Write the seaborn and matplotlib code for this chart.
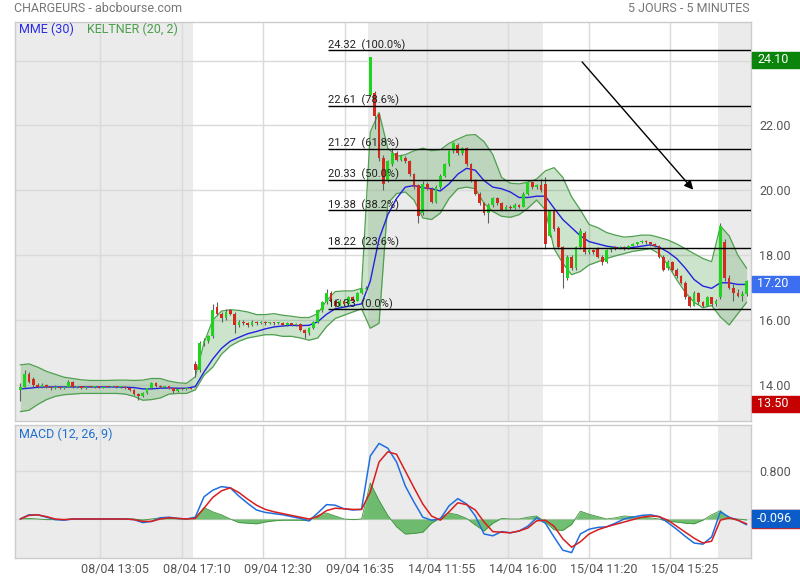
import numpy as np
import pandas as pd
import matplotlib
matplotlib.use("Agg")
import matplotlib.pyplot as plt
import seaborn as sns
from matplotlib.patches import Rectangle
from matplotlib.transforms import blended_transform_factory as btf

sns.set_style("white")
plt.rcParams['font.family'] = ['Roboto', 'DejaVu Sans']

# ---------------- data (5-minute candles, 5 sessions) ----------------
day_lengths = [40, 40, 40, 40, 7]

opens = [
    13.85, 13.95, 14.35, 14.20, 14.00, 13.95, 14.00, 13.95, 13.90, 13.95,
    13.90, 13.95, 14.10, 13.95, 13.96, 13.90, 13.95, 13.94, 13.96, 13.92,
    13.95, 13.94, 13.96, 13.94, 13.95, 13.90, 13.85, 13.72, 13.65, 13.75,
    13.90, 14.05, 13.98, 13.95, 13.96, 13.90, 13.80, 13.88, 13.87, 13.90,
    14.65, 14.45, 15.30, 15.35, 15.50, 16.40, 16.20, 16.05, 16.30, 16.20,
    15.85, 15.95, 15.90, 15.85, 15.95, 15.90, 15.95, 15.90, 15.92, 15.90,
    15.92, 15.85, 15.90, 15.85, 15.88, 15.70, 15.60, 15.75, 15.95, 16.30,
    16.55, 16.85, 16.60, 16.45, 16.60, 16.50, 16.70, 16.60, 16.85, 16.95,
    22.95, 23.00, 22.35, 21.00, 20.30, 20.80, 21.15, 20.95, 21.00, 20.90,
    20.50, 20.15, 19.30, 20.20, 20.05, 19.65, 20.10, 20.45, 20.80, 21.20,
    21.40, 21.15, 21.30, 20.80, 20.30, 19.90, 19.60, 19.30, 19.55, 19.75,
    19.60, 19.40, 19.50, 19.45, 19.55, 19.50, 19.90, 20.25, 20.10, 20.15,
    20.20, 18.60, 19.35, 18.85, 18.25, 17.30, 17.95, 17.60, 18.25, 18.70,
    18.10, 18.15, 18.20, 17.95, 17.80, 18.15, 18.25, 18.20, 18.25, 18.20,
    18.30, 18.35, 18.40, 18.45, 18.40, 18.35, 18.30, 17.95, 17.60, 17.80,
    17.55, 17.35, 17.15, 16.70, 16.45, 16.85, 16.55, 16.45, 16.70, 16.50,
    16.70, 18.40, 17.30, 17.00, 16.85, 16.75, 16.80,
]
highs = [
    14.05, 14.45, 14.40, 14.25, 14.05, 14.05, 14.02, 13.98, 14.00, 13.97,
    13.98, 14.15, 14.12, 13.98, 13.97, 13.97, 13.97, 13.97, 13.98, 13.97,
    13.97, 13.98, 13.98, 13.97, 13.96, 13.92, 13.87, 13.75, 13.78, 13.92,
    14.10, 14.08, 14.00, 13.98, 13.97, 13.92, 13.92, 13.90, 13.93, 13.92,
    14.75, 15.35, 15.45, 15.55, 16.50, 16.55, 16.25, 16.35, 16.35, 16.25,
    16.00, 16.00, 15.95, 16.00, 15.98, 15.98, 15.97, 15.95, 15.94, 15.95,
    15.94, 15.93, 15.92, 15.92, 15.90, 15.72, 15.78, 15.98, 16.35, 16.60,
    16.95, 16.90, 16.65, 16.65, 16.65, 16.75, 16.75, 16.88, 16.98, 17.05,
    24.10, 23.05, 22.40, 21.10, 20.95, 21.30, 21.20, 21.10, 21.05, 20.95,
    20.55, 20.20, 20.30, 20.25, 20.10, 20.15, 20.50, 20.85, 21.25, 21.50,
    21.45, 21.35, 21.35, 20.85, 20.35, 19.95, 19.65, 19.60, 19.80, 19.80,
    19.65, 19.55, 19.55, 19.60, 19.58, 19.95, 20.30, 20.30, 20.20, 20.35,
    20.40, 19.40, 19.40, 18.90, 18.30, 18.00, 18.00, 18.30, 18.85, 18.75,
    18.20, 18.20, 18.25, 18.00, 18.20, 18.30, 18.28, 18.28, 18.28, 18.33,
    18.38, 18.42, 18.48, 18.47, 18.42, 18.37, 18.32, 18.00, 17.85, 17.82,
    17.60, 17.40, 17.20, 16.75, 16.90, 16.88, 16.60, 16.75, 16.72, 16.65,
    19.00, 18.50, 17.40, 17.10, 16.95, 16.90, 17.25,
]
lows = [
    13.50, 13.90, 14.05, 13.95, 13.90, 13.90, 13.90, 13.85, 13.88, 13.88,
    13.88, 13.93, 13.92, 13.92, 13.88, 13.88, 13.93, 13.92, 13.90, 13.91,
    13.93, 13.93, 13.92, 13.92, 13.88, 13.82, 13.68, 13.55, 13.62, 13.73,
    13.88, 13.95, 13.92, 13.92, 13.88, 13.75, 13.78, 13.85, 13.85, 13.87,
    14.25, 14.40, 15.20, 15.30, 15.45, 16.15, 15.95, 16.00, 16.15, 15.60,
    15.80, 15.85, 15.80, 15.83, 15.85, 15.88, 15.86, 15.87, 15.86, 15.88,
    15.82, 15.83, 15.82, 15.83, 15.65, 15.45, 15.55, 15.72, 15.92, 16.25,
    16.50, 16.50, 16.40, 16.42, 16.45, 16.48, 16.55, 16.58, 16.80, 16.90,
    22.90, 21.90, 20.90, 20.00, 20.25, 20.75, 20.90, 20.90, 20.85, 20.45,
    20.05, 19.00, 19.25, 20.00, 19.60, 19.60, 20.05, 20.40, 20.75, 21.15,
    21.10, 21.10, 20.75, 20.25, 19.85, 19.55, 19.25, 19.00, 19.50, 19.55,
    19.35, 19.35, 19.40, 19.42, 19.45, 19.48, 19.85, 20.05, 20.05, 19.95,
    18.20, 18.55, 18.75, 18.20, 17.00, 17.25, 17.55, 17.55, 18.20, 18.05,
    18.05, 18.05, 17.90, 17.70, 17.75, 18.10, 18.15, 18.18, 18.17, 18.18,
    18.27, 18.32, 18.37, 18.35, 18.30, 18.25, 17.90, 17.50, 17.55, 17.50,
    17.30, 17.10, 16.65, 16.40, 16.42, 16.50, 16.40, 16.42, 16.45, 16.45,
    16.65, 17.20, 16.95, 16.60, 16.70, 16.60, 16.75,
]
closes = [
    13.95, 14.35, 14.10, 14.00, 13.95, 14.00, 13.95, 13.90, 13.95, 13.90,
    13.95, 14.10, 13.95, 13.96, 13.90, 13.95, 13.94, 13.96, 13.92, 13.95,
    13.94, 13.96, 13.94, 13.95, 13.90, 13.85, 13.72, 13.65, 13.75, 13.90,
    14.05, 13.98, 13.95, 13.96, 13.90, 13.80, 13.88, 13.87, 13.90, 13.89,
    14.45, 15.30, 15.35, 15.50, 16.30, 16.20, 16.05, 16.25, 16.20, 15.85,
    15.95, 15.90, 15.85, 15.95, 15.90, 15.95, 15.90, 15.92, 15.90, 15.92,
    15.85, 15.90, 15.85, 15.88, 15.70, 15.60, 15.75, 15.95, 16.30, 16.55,
    16.85, 16.55, 16.45, 16.60, 16.50, 16.70, 16.60, 16.85, 16.95, 17.00,
    24.10, 22.30, 21.00, 20.20, 20.90, 21.15, 20.95, 21.05, 20.90, 20.50,
    20.10, 19.20, 20.20, 20.05, 19.65, 20.10, 20.45, 20.80, 21.20, 21.45,
    21.15, 21.30, 20.80, 20.30, 19.90, 19.60, 19.30, 19.55, 19.75, 19.60,
    19.40, 19.50, 19.45, 19.55, 19.50, 19.90, 20.25, 20.10, 20.15, 20.00,
    18.35, 19.35, 18.80, 18.25, 17.45, 17.95, 17.60, 18.25, 18.75, 18.10,
    18.15, 18.10, 17.95, 17.80, 18.15, 18.25, 18.20, 18.25, 18.20, 18.30,
    18.35, 18.40, 18.45, 18.40, 18.35, 18.30, 17.95, 17.55, 17.80, 17.55,
    17.35, 17.15, 16.70, 16.45, 16.85, 16.55, 16.45, 16.70, 16.50, 16.60,
    18.90, 17.30, 17.00, 16.85, 16.75, 16.80, 17.20,
]

# indicator lines read every second candle
mme30 = [
    13.88, 13.90, 13.93, 13.94, 13.94, 13.94, 13.94, 13.94, 13.94, 13.94,
    13.94, 13.94, 13.93, 13.92, 13.88, 13.88, 13.90, 13.91, 13.90, 13.90,
    13.95, 14.40, 14.80, 15.13, 15.35, 15.47, 15.58, 15.65, 15.73, 15.79,
    15.82, 15.84, 15.83, 15.84, 15.95, 16.18, 16.35, 16.40, 16.45, 16.50,
    17.20, 18.50, 19.25, 19.75, 20.10, 20.15, 20.08, 20.05, 19.98, 20.20,
    20.50, 20.68, 20.62, 20.30, 20.10, 20.05, 19.95, 19.78, 19.78, 19.82,
    19.82, 19.45, 19.10, 18.85, 18.60, 18.42, 18.35, 18.28, 18.24, 18.22,
    18.24, 18.28, 18.32, 18.25, 18.10, 17.90, 17.60, 17.25, 17.05, 16.98,
    17.15, 17.15, 17.10, 17.10,
]
keltner_up = [
    14.62, 14.65, 14.55, 14.42, 14.33, 14.24, 14.20, 14.16, 14.14, 14.14,
    14.14, 14.15, 14.15, 14.14, 14.15, 14.20, 14.20, 14.12, 14.07, 14.05,
    14.25, 15.30, 16.00, 16.28, 16.32, 16.30, 16.25, 16.17, 16.17, 16.20,
    16.15, 16.12, 16.08, 16.08, 16.20, 16.60, 16.88, 16.90, 16.90, 16.98,
    21.80, 22.40, 21.30, 21.05, 21.10, 21.22, 21.30, 21.22, 21.25, 21.45,
    21.58, 21.70, 21.72, 21.50, 21.10, 20.40, 20.22, 20.20, 20.25, 20.35,
    20.60, 20.70, 20.40, 19.80, 19.40, 18.95, 18.85, 18.70, 18.62, 18.56,
    18.58, 18.62, 18.62, 18.55, 18.47, 18.35, 18.20, 18.05, 17.90, 17.80,
    18.90, 18.60, 18.00, 17.60,
]
keltner_low = [
    13.18, 13.22, 13.40, 13.55, 13.65, 13.70, 13.72, 13.74, 13.74, 13.74,
    13.74, 13.74, 13.72, 13.65, 13.53, 13.55, 13.60, 13.72, 13.74, 13.74,
    13.85, 14.30, 14.55, 14.95, 15.20, 15.35, 15.45, 15.50, 15.55, 15.55,
    15.50, 15.50, 15.45, 15.38, 15.45, 15.80, 16.05, 16.15, 16.25, 16.35,
    15.75, 15.90, 19.60, 19.90, 19.95, 19.70, 19.15, 19.10, 19.30, 19.75,
    20.05, 20.10, 20.05, 19.60, 19.35, 19.20, 19.17, 19.25, 19.45, 19.70,
    19.40, 18.20, 17.75, 17.40, 17.50, 17.70, 17.80, 17.90, 17.98, 18.05,
    18.12, 18.16, 18.20, 18.05, 17.70, 17.25, 16.85, 16.55, 16.38, 16.45,
    16.10, 15.85, 16.20, 16.55,
]
macd_line = [
    0.00, 0.07, 0.07, 0.03, -0.01, -0.02, 0.00, 0.00, 0.00, 0.00,
    0.00, 0.00, 0.00, -0.01, -0.06, -0.04, 0.02, 0.03, 0.01, 0.00,
    0.03, 0.37, 0.48, 0.54, 0.52, 0.38, 0.26, 0.15, 0.11, 0.09,
    0.07, 0.04, 0.01, -0.03, 0.10, 0.24, 0.23, 0.17, 0.15, 0.16,
    1.05, 1.26, 1.18, 0.95, 0.55, 0.28, 0.03, -0.02, 0.00, 0.22,
    0.34, 0.25, 0.05, -0.25, -0.28, -0.21, -0.23, -0.20, -0.12, 0.02,
    -0.07, -0.30, -0.52, -0.56, -0.25, -0.17, -0.14, -0.13, -0.07, 0.00,
    0.03, 0.06, 0.07, 0.04, -0.06, -0.17, -0.29, -0.40, -0.42, -0.30,
    0.12, 0.03, -0.02, -0.096,
]
macd_signal = [
    0.00, 0.06, 0.07, 0.04, 0.00, -0.01, 0.00, 0.00, 0.00, 0.00,
    0.00, 0.00, 0.00, -0.01, -0.04, -0.04, 0.00, 0.02, 0.01, 0.00,
    0.01, 0.18, 0.36, 0.47, 0.52, 0.44, 0.33, 0.23, 0.16, 0.12,
    0.09, 0.06, 0.03, 0.00, 0.04, 0.14, 0.18, 0.17, 0.16, 0.16,
    0.45, 0.95, 1.12, 1.08, 0.80, 0.52, 0.25, 0.05, -0.02, 0.12,
    0.27, 0.24, 0.15, -0.05, -0.21, -0.22, -0.23, -0.20, -0.15, -0.03,
    -0.02, -0.12, -0.33, -0.47, -0.38, -0.25, -0.18, -0.13, -0.09, -0.05,
    -0.01, 0.03, 0.05, 0.04, -0.02, -0.12, -0.22, -0.32, -0.40, -0.37,
    -0.02, 0.02, -0.02, -0.08,
]

fib_levels = [24.32, 22.61, 21.27, 20.33, 19.38, 18.22, 16.33]
fib_pcts = ["100.0%", "78.6%", "61.8%", "50.0%", "38.2%", "23.6%", "0.0%"]
fib_start = 70.4                      # candle index where the retracement starts
arrow_start = (128.4, 23.96)          # user-drawn trend arrow
arrow_end = (153.8, 20.02)

grid_idx = [18.24, 36.98, 55.50, 74.24, 92.98, 111.5, 130.0, 148.5]
time_labels = ["08/04 13:05", "08/04 17:10", "09/04 12:30", "09/04 16:35",
               "14/04 11:55", "14/04 16:00", "15/04 11:20", "15/04 15:25"]
price_ticks = [14, 16, 18, 20, 22, 24]

# ---------------- build frames ----------------
candles = pd.DataFrame({"open": opens, "high": highs, "low": lows, "close": closes})
candles["idx"] = np.arange(len(candles))
lines = pd.DataFrame({"mme": mme30, "up": keltner_up, "low": keltner_low,
                      "macd": macd_line, "signal": macd_signal})
lines["idx"] = np.arange(len(lines)) * 2
lines["hist"] = lines["macd"] - lines["signal"]

XMIN, XMAX = -1.19, 167.0

fig = plt.figure(figsize=(8, 5.8), dpi=100)
ax = fig.add_axes([15 / 800, 1 - 421 / 580, 736 / 800, 399 / 580])
ax2 = fig.add_axes([15 / 800, 1 - 558 / 580, 736 / 800, 133 / 580])

shade = "#ebebeb"
grid_c = "#dadada"
edges = np.concatenate([[XMIN], np.cumsum(day_lengths)[:-1] - 0.5, [XMAX]])
for a in (ax, ax2):
    for d in range(len(day_lengths)):
        if d % 2 == 0:
            a.axvspan(edges[d], edges[d + 1], color=shade, zorder=0, lw=0)
    a.set_xlim(XMIN, XMAX)
    a.set_xticks(grid_idx)
    a.set_axisbelow(True)
    a.grid(True, color=grid_c, lw=1)
    for s in a.spines.values():
        s.set_color("#cccccc")
        s.set_linewidth(1)
    a.tick_params(length=0, labelbottom=False)
    a.yaxis.tick_right()

# ---------------- main price panel ----------------
ax.set_ylim(12.89, 25.19)
ax.set_yticks(price_ticks)
ax.set_yticklabels([f"{v:.2f}" if v < 24 else "" for v in price_ticks])
ax.tick_params(axis="y", pad=6, labelsize=9, labelcolor="#555555")

ax.fill_between(lines["idx"], lines["low"], lines["up"], color="#3c963c", alpha=0.26,
                lw=0, zorder=1)
sns.lineplot(data=lines, x="idx", y="up", ax=ax, color="#4f9f4f", lw=0.9, zorder=1.5,
             legend=False)
sns.lineplot(data=lines, x="idx", y="low", ax=ax, color="#4f9f4f", lw=0.9, zorder=1.5,
             legend=False)
sns.lineplot(data=lines, x="idx", y="mme", ax=ax, color="#2222e0", lw=1.0, zorder=2,
             legend=False)

up = candles["close"] >= candles["open"]
body_lo = np.minimum(candles["open"], candles["close"])
body_h = np.maximum(np.abs(candles["close"] - candles["open"]), 0.03)
ax.vlines(candles["idx"], candles["low"], candles["high"], color="#606060", lw=0.8,
          zorder=3)
ax.bar(candles["idx"], body_h, bottom=body_lo, width=0.62,
       color=np.where(up, "#1ed41e", "#d42a1e"), lw=0, zorder=3.5)

for lv, pct in zip(fib_levels, fib_pcts):
    ax.hlines(lv, fib_start, XMAX, color="black", lw=1.0, zorder=4)
    ax.text(fib_start, lv + 0.07, f"{lv:.2f}  ({pct})", fontsize=8, color="#222222",
            va="baseline", ha="left", zorder=5)

ax.annotate("", xy=arrow_end, xytext=arrow_start,
            arrowprops=dict(arrowstyle="-|>", color="black", lw=1.0,
                            mutation_scale=13, shrinkA=0, shrinkB=0), zorder=5)

ax.set_xlabel("")
ax.set_ylabel("")

# badges
bt = btf(ax.transAxes, ax.transData)
bx0 = (752 - 15) / 736
bw = 48 / 736
tx = (757 - 15) / 736
for val, col in [(max(closes), "#0a840a"), (closes[-1], "#3b6ff0"), (min(lows), "#c40000")]:
    cy = val - 0.08
    ax.add_patch(Rectangle((bx0, cy - 0.247), bw, 0.494, transform=bt, color=col,
                           clip_on=False, zorder=6))
    ax.text(tx, cy, f"{val:.2f}", transform=bt, color="white", fontsize=9,
            va="center", ha="left", zorder=7, clip_on=False)

# ---------------- MACD panel ----------------
ax2.set_ylim(-0.65, 1.567)
ax2.set_yticks([0, 0.8])
ax2.set_yticklabels(["", "0.800"])
ax2.tick_params(axis="y", pad=6, labelsize=9, labelcolor="#555555")
ax2.fill_between(lines["idx"], 0, lines["hist"], color="#4fae4f", alpha=0.8, lw=0,
                 zorder=1)
sns.lineplot(data=lines, x="idx", y="hist", ax=ax2, color="#3f943f", lw=0.6, zorder=1.2,
             legend=False)
sns.lineplot(data=lines, x="idx", y="macd", ax=ax2, color="#1f6fe0", lw=1.1, zorder=2,
             legend=False)
sns.lineplot(data=lines, x="idx", y="signal", ax=ax2, color="#d81e1e", lw=1.1, zorder=2.5,
             legend=False)
ax2.set_xlabel("")
ax2.set_ylabel("")

bt2 = btf(ax2.transAxes, ax2.transData)
last_macd = macd_line[-1]
cy2 = last_macd + 0.105
ax2.add_patch(Rectangle((bx0, cy2 - 0.16), bw, 0.30, transform=bt2, color="#d81e1e",
                        clip_on=False, zorder=6))
ax2.add_patch(Rectangle((bx0, cy2 - 0.14), bw, 0.28, transform=bt2, color="#0b5cc8",
                        clip_on=False, zorder=6.5))
ax2.text(tx, cy2, f"{last_macd:.3f}", transform=bt2, color="white", fontsize=9,
         va="center", ha="left", zorder=7, clip_on=False)

# time labels under the MACD panel
bt3 = btf(ax2.transData, ax2.transAxes)
for gx, lab in zip(grid_idx, time_labels):
    ax2.text(gx + 3.3, -0.09, lab, transform=bt3, ha="center", va="center",
             fontsize=9, color="#555555", clip_on=False)

# ---------------- headers ----------------
fig.text(14 / 800, 1 - 8 / 580, "CHARGEURS - abcbourse.com", fontsize=9,
         color="#777777", ha="left", va="center")
fig.text(750 / 800, 1 - 8 / 580, "5 JOURS - 5 MINUTES", fontsize=9,
         color="#777777", ha="right", va="center")
fig.text(19 / 800, 1 - 29 / 580, "MME (30)", fontsize=9, color="#2a2ae8",
         ha="left", va="center")
fig.text(87 / 800, 1 - 29 / 580, "KELTNER (20, 2)", fontsize=9, color="#4a9e4a",
         ha="left", va="center")
fig.text(19 / 800, 1 - 434 / 580, "MACD (12, 26, 9)", fontsize=9, color="#1f6fd0",
         ha="left", va="center")

fig.savefig("out.png", dpi=100, facecolor="white")
